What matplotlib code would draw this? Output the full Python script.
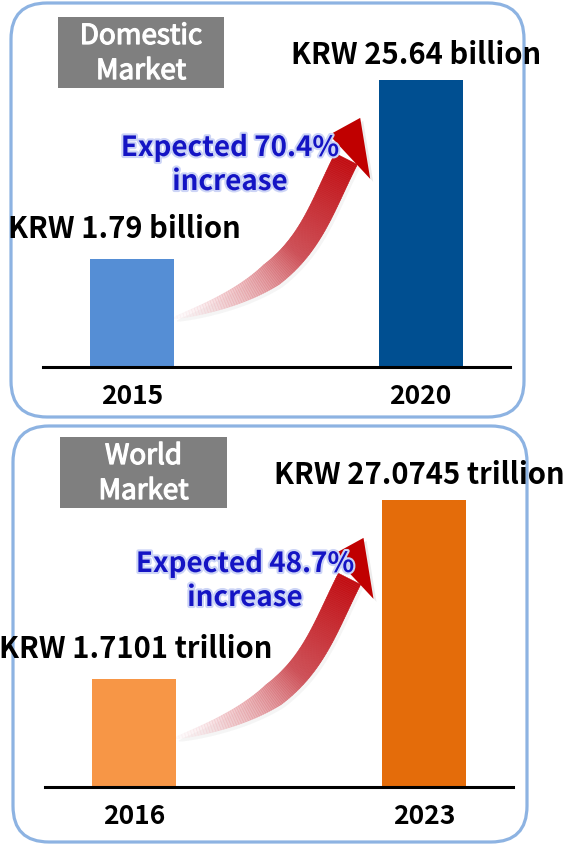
import matplotlib.pyplot as plt
import numpy as np
import matplotlib.patheffects as pe
from matplotlib.patches import FancyBboxPatch, Rectangle, Polygon
from matplotlib.collections import PolyCollection

plt.rcParams['font.family'] = ['Noto Sans CJK KR', 'DejaVu Sans']

# * chart data
titles = [('Domestic', 'Market'), ('World', 'Market')]
years = [['2015', '2020'], ['2016', '2023']]
value_labels = [['KRW 1.79 billion', 'KRW 25.64 billion'],
                ['KRW 1.7101 trillion', 'KRW 27.0745 trillion']]
growth_labels = [('Expected 70.4%', 'increase'), ('Expected 48.7%', 'increase')]
# bar heights as drawn in the picture (the picture is not to scale)
bar_heights = [[37.5, 100.0], [37.5, 100.0]]
bar_colors = [['#558ed5', '#004f91'], ['#f79646', '#e46c0a']]

# * figure in pixel units
W, H = 563, 845
fig = plt.figure(figsize=(W / 100, H / 100), dpi=100)
ax0 = fig.add_axes([0, 0, 1, 1], zorder=0)
ax0.set_xlim(0, W)
ax0.set_ylim(H, 0)
ax0.axis('off')

# layout of each panel (pixels, y measured from top)
layout = [
    dict(border=(11, 4, 524, 418), box=(58, 18, 224, 89),
         axes=(43, 510, 368, 81), centers=(132, 420.7), growth=(230, 166),
         offsets=[(-8, 31), (-5, 26)]),
    dict(border=(13, 427, 527, 843), box=(60, 438, 227, 509),
         axes=(45, 513, 788, 501), centers=(133.75, 424), growth=(245, 582),
         offsets=[(2, 31), (-5, 26)]),
]
bar_w_px = 84


def to_px(ax, x, y):
    disp = ax.transData.transform((x, y))
    return ax0.transData.inverted().transform(disp)


def draw_arrow(p0, tip):
    # body end (neck) relative to the tip
    e = tip + np.array([-14.0, 41.0])
    c1 = p0 + np.array([135 * 0.96, -135 * 0.26])
    c2 = e - np.array([80 * 0.45, -80 * 0.89])
    t = np.linspace(0, 1, 121)[:, None]
    curve = ((1 - t) ** 3) * p0 + 3 * ((1 - t) ** 2) * t * c1 \
        + 3 * (1 - t) * t ** 2 * c2 + t ** 3 * e
    der = 3 * (1 - t) ** 2 * (c1 - p0) + 6 * (1 - t) * t * (c2 - c1) \
        + 3 * t ** 2 * (e - c2)
    der = der / np.linalg.norm(der, axis=1)[:, None]
    nrm = np.column_stack([-der[:, 1], der[:, 0]])
    tt = t[:, 0]
    width = 24 * np.clip(tt / 0.35, 0, 1) ** 0.7 + 1
    left = curve + nrm * width[:, None] / 2
    right = curve - nrm * width[:, None] / 2
    quads = [[left[i], left[i + 1], right[i + 1], right[i]]
             for i in range(len(tt) - 1)]
    tm = (tt[:-1] + tt[1:]) / 2
    knots = [0, 0.15, 0.5, 1]
    r = np.interp(tm, knots, [0.98, 0.93, 0.80, 0.76])
    g = np.interp(tm, knots, [0.90, 0.70, 0.28, 0.05])
    b = np.interp(tm, knots, [0.92, 0.72, 0.31, 0.07])
    a = np.interp(tm, knots, [0.15, 0.55, 0.92, 1.0])
    cols = np.column_stack([r, g, b, a])
    head = [tip, e + np.array([-17.0, -24.0]), e + np.array([24.0, 20.0])]
    # soft shadow
    shadow = [[p + np.array([3, 3]) for p in q] for q in quads]
    ax0.add_collection(PolyCollection(shadow, facecolors=(0.3, 0.3, 0.3, 0.05),
                                      edgecolors='none', zorder=2))
    ax0.add_patch(Polygon([p + np.array([3, 3]) for p in head],
                          closed=True, facecolor=(0.3, 0.3, 0.3, 0.10),
                          edgecolor='none', zorder=2))
    ax0.add_collection(PolyCollection(quads, facecolors=cols, edgecolors=cols,
                                      linewidths=0.4, zorder=3))
    ax0.add_patch(Polygon(head, closed=True, facecolor='#c00000',
                          edgecolor='none', zorder=3))


for k, lay in enumerate(layout):
    # * rounded panel border
    x1, y1, x2, y2 = lay['border']
    ax0.add_patch(FancyBboxPatch((x1, y1), x2 - x1, y2 - y1,
                                 boxstyle='round,pad=0,rounding_size=36',
                                 facecolor='none', edgecolor='#8db3e2',
                                 linewidth=2.3, zorder=1))
    # * grey title box
    bx1, by1, bx2, by2 = lay['box']
    ax0.add_patch(Rectangle((bx1, by1), bx2 - bx1, by2 - by1,
                            facecolor='#7f7f7f', edgecolor='none', zorder=1))
    cx, cy = (bx1 + bx2) / 2, (by1 + by2) / 2
    thick = [pe.withStroke(linewidth=0.9, foreground='white')]
    ax0.text(cx, cy - 16.5, titles[k][0], color='white', fontsize=20,
             ha='center', va='center', zorder=4, path_effects=thick)
    ax0.text(cx, cy + 18.5, titles[k][1], color='white', fontsize=20,
             ha='center', va='center', zorder=4, path_effects=thick)

    # * bar axes
    left, right, base, top = lay['axes']
    c0, c1 = lay['centers']
    scale = c1 - c0
    ax = fig.add_axes([left / W, (H - base) / H, (right - left) / W,
                       (base - top) / H], zorder=1)
    ax.patch.set_alpha(0)
    ax.set_xlim(-(c0 - left) / scale, (right - c0) / scale)
    ax.set_ylim(0, 100)
    bw = bar_w_px / scale
    xs = np.arange(len(years[k]))
    bars = ax.bar(xs, bar_heights[k], width=bw, color=bar_colors[k], zorder=1)
    for s in ['top', 'left', 'right']:
        ax.spines[s].set_visible(False)
    ax.spines['bottom'].set_linewidth(2.2)
    ax.spines['bottom'].set_color('black')
    ax.set_yticks([])
    ax.set_xticks(xs)
    ax.set_xticklabels(years[k], fontsize=19, fontweight='bold')
    ax.tick_params(axis='x', length=0, pad=11)

    # * value labels above the bars
    for i, rect in enumerate(bars):
        ax.annotate(value_labels[k][i],
                    xy=(rect.get_x() + rect.get_width() / 2, rect.get_height()),
                    xytext=lay['offsets'][i], textcoords='offset pixels',
                    ha='center', va='center', fontsize=21, fontweight='bold',
                    color='black', annotation_clip=False, zorder=5)

    # * curved growth arrow
    p0 = to_px(ax, xs[0] + bw / 2, 0.455 * bar_heights[k][0])
    tip = to_px(ax, xs[1] - bw / 2 - 18.5 / scale, 0.868 * bar_heights[k][1])
    draw_arrow(np.array(p0), np.array(tip))

    gx, gy = lay['growth']
    glow = [pe.withStroke(linewidth=3.0, foreground='#ccd4f6')]
    ax0.text(gx, gy - 17, growth_labels[k][0], color='#1414c4', fontsize=20,
             fontweight='bold', ha='center', va='center', zorder=6,
             path_effects=glow)
    ax0.text(gx, gy + 17, growth_labels[k][1], color='#1414c4', fontsize=20,
             fontweight='bold', ha='center', va='center', zorder=6,
             path_effects=glow)

plt.savefig('out.png', dpi=100)
